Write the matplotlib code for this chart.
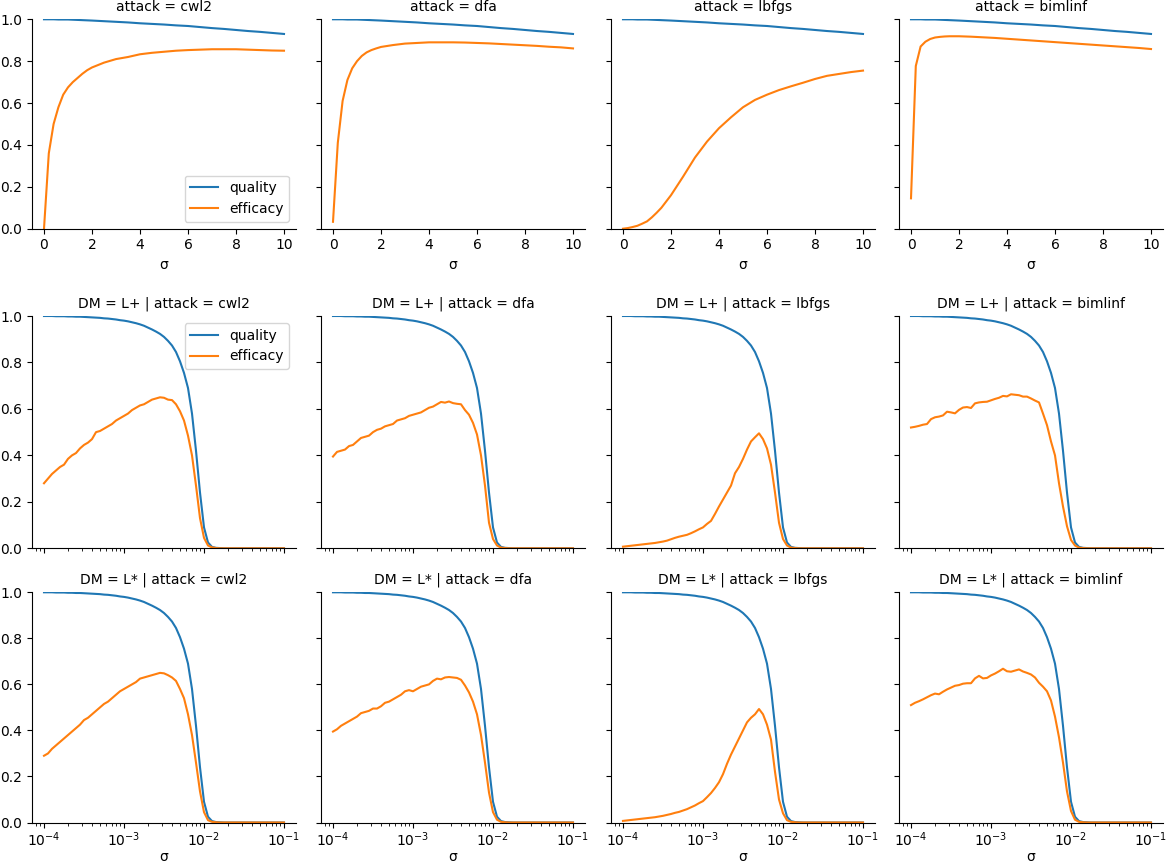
import numpy as np
import matplotlib
matplotlib.use("Agg")
import matplotlib.pyplot as plt

attacks = ["cwl2", "dfa", "lbfgs", "bimlinf"]
dms = ["L+", "L*"]

# top row: linear sigma
sigma_lin = [0, 0.2, 0.4, 0.6, 0.8, 1.0, 1.2, 1.4, 1.6, 1.8, 2.0, 2.5, 3.0, 3.5,
             4.0, 4.5, 5.0, 5.5, 6.0, 6.5, 7.0, 7.5, 8.0, 8.5, 9.0, 9.5, 10.0]
quality_lin = [1.000, 1.000, 1.000, 0.999, 0.999, 0.999, 0.998, 0.997, 0.996, 0.995,
               0.994, 0.991, 0.988, 0.985, 0.981, 0.978, 0.975, 0.971, 0.968, 0.963,
               0.958, 0.954, 0.949, 0.944, 0.940, 0.935, 0.930]
efficacy_lin = {
    "cwl2": [0.0, 0.36, 0.50, 0.58, 0.64, 0.675, 0.70, 0.72, 0.74, 0.757, 0.77, 0.793,
             0.81, 0.82, 0.833, 0.84, 0.845, 0.85, 0.853, 0.855, 0.857, 0.857, 0.857,
             0.855, 0.853, 0.851, 0.85],
    "dfa": [0.033, 0.41, 0.61, 0.71, 0.766, 0.80, 0.825, 0.842, 0.853, 0.861, 0.868,
            0.877, 0.884, 0.887, 0.89, 0.89, 0.89, 0.889, 0.887, 0.885, 0.882, 0.879,
            0.876, 0.873, 0.869, 0.866, 0.861],
    "lbfgs": [0.0, 0.003, 0.008, 0.014, 0.024, 0.035, 0.054, 0.076, 0.10, 0.13, 0.16,
              0.248, 0.34, 0.416, 0.48, 0.532, 0.58, 0.615, 0.64, 0.662, 0.68, 0.697,
              0.715, 0.73, 0.739, 0.748, 0.755],
    "bimlinf": [0.145, 0.777, 0.87, 0.893, 0.906, 0.913, 0.916, 0.918, 0.919, 0.919,
                0.919, 0.917, 0.914, 0.911, 0.907, 0.903, 0.899, 0.895, 0.891, 0.887,
                0.883, 0.879, 0.875, 0.871, 0.867, 0.863, 0.858],
}

# rows 2-3: log sigma, 20 samples per decade from 1e-4 to 1e-1
sigma_log = np.logspace(-4, -1, 61)
quality_log = [1.000, 1.000, 1.000, 0.999, 0.999, 0.999, 0.998, 0.998, 0.997, 0.997,
               0.996, 0.995, 0.994, 0.993, 0.992, 0.990, 0.989, 0.987, 0.985, 0.982,
               0.980, 0.977, 0.973, 0.969, 0.964, 0.958, 0.950, 0.942, 0.933, 0.923,
               0.910, 0.893, 0.873, 0.845, 0.805, 0.755, 0.690, 0.580, 0.420, 0.240,
               0.090, 0.025, 0.006, 0.002, 0.001,
               0, 0, 0, 0, 0, 0, 0, 0, 0, 0, 0, 0, 0, 0, 0, 0]
tail = [0] * 16
efficacy_log = {
    ("L+", "cwl2"): [0.28, 0.30, 0.32, 0.335, 0.35, 0.36, 0.385, 0.40, 0.41, 0.43,
                     0.445, 0.455, 0.47, 0.50, 0.505, 0.515, 0.525, 0.535, 0.55, 0.56,
                     0.57, 0.58, 0.595, 0.605, 0.615, 0.62, 0.63, 0.64, 0.645, 0.65,
                     0.648, 0.64, 0.638, 0.62, 0.59, 0.55, 0.485, 0.40, 0.27, 0.13,
                     0.045, 0.012, 0.004, 0.001, 0.0] + tail,
    ("L+", "dfa"): [0.395, 0.415, 0.42, 0.425, 0.44, 0.445, 0.46, 0.475, 0.48, 0.485,
                    0.50, 0.51, 0.515, 0.525, 0.53, 0.535, 0.55, 0.555, 0.56, 0.57,
                    0.575, 0.58, 0.585, 0.595, 0.605, 0.61, 0.62, 0.63, 0.627, 0.632,
                    0.625, 0.622, 0.62, 0.595, 0.575, 0.54, 0.49, 0.40, 0.27, 0.11,
                    0.04, 0.012, 0.003, 0.001, 0.0] + tail,
    ("L+", "lbfgs"): [0.007, 0.009, 0.011, 0.013, 0.015, 0.017, 0.019, 0.021, 0.023, 0.026,
                      0.029, 0.033, 0.039, 0.045, 0.050, 0.054, 0.058, 0.065, 0.073, 0.082,
                      0.09, 0.105, 0.118, 0.148, 0.18, 0.21, 0.24, 0.27, 0.323, 0.35,
                      0.385, 0.425, 0.46, 0.478, 0.495, 0.47, 0.43, 0.36, 0.24, 0.11,
                      0.04, 0.012, 0.003, 0.001, 0.0] + tail,
    ("L+", "bimlinf"): [0.52, 0.523, 0.527, 0.532, 0.535, 0.556, 0.564, 0.567, 0.572, 0.588,
                        0.585, 0.581, 0.596, 0.606, 0.608, 0.604, 0.624, 0.628, 0.63, 0.631,
                        0.637, 0.643, 0.648, 0.656, 0.654, 0.663, 0.661, 0.659, 0.653, 0.653,
                        0.645, 0.636, 0.628, 0.58, 0.53, 0.46, 0.40, 0.28, 0.18, 0.095,
                        0.036, 0.012, 0.003, 0.001, 0.0] + tail,
    ("L*", "cwl2"): [0.29, 0.30, 0.32, 0.335, 0.35, 0.365, 0.38, 0.395, 0.41, 0.425,
                     0.445, 0.455, 0.47, 0.485, 0.50, 0.515, 0.525, 0.54, 0.555, 0.57,
                     0.58, 0.59, 0.60, 0.61, 0.625, 0.63, 0.635, 0.64, 0.645, 0.65,
                     0.648, 0.64, 0.63, 0.615, 0.58, 0.54, 0.47, 0.38, 0.26, 0.135,
                     0.045, 0.01, 0.003, 0.001, 0.0] + tail,
    ("L*", "dfa"): [0.395, 0.405, 0.42, 0.43, 0.44, 0.45, 0.46, 0.475, 0.48, 0.485,
                    0.495, 0.495, 0.505, 0.52, 0.525, 0.535, 0.545, 0.555, 0.57, 0.575,
                    0.57, 0.58, 0.59, 0.595, 0.60, 0.615, 0.625, 0.622, 0.63, 0.632,
                    0.63, 0.628, 0.62, 0.595, 0.565, 0.525, 0.47, 0.38, 0.26, 0.13,
                    0.045, 0.012, 0.003, 0.001, 0.0] + tail,
    ("L*", "lbfgs"): [0.007, 0.009, 0.011, 0.013, 0.015, 0.017, 0.019, 0.021, 0.023, 0.026,
                      0.029, 0.033, 0.037, 0.042, 0.046, 0.052, 0.058, 0.066, 0.074, 0.084,
                      0.093, 0.11, 0.128, 0.15, 0.175, 0.21, 0.255, 0.295, 0.33, 0.365,
                      0.40, 0.435, 0.455, 0.47, 0.493, 0.47, 0.425, 0.36, 0.22, 0.10,
                      0.04, 0.010, 0.003, 0.001, 0.0] + tail,
    ("L*", "bimlinf"): [0.51, 0.52, 0.527, 0.535, 0.544, 0.553, 0.56, 0.557, 0.568, 0.578,
                        0.586, 0.594, 0.597, 0.603, 0.605, 0.605, 0.626, 0.637, 0.626, 0.628,
                        0.639, 0.647, 0.657, 0.668, 0.657, 0.655, 0.66, 0.665, 0.656, 0.65,
                        0.643, 0.63, 0.607, 0.59, 0.57, 0.53, 0.46, 0.37, 0.26, 0.135,
                        0.05, 0.012, 0.003, 0.001, 0.0] + tail,
}

W, H = 1167, 867
fig = plt.figure(figsize=(W / 100, H / 100), dpi=100)

col_left = [32, 321, 611, 899]
ax_w = 264
rows_px = [(19.3, 228.7), (316, 548.3), (592.3, 822.5)]


def make_ax(col, row):
    top, bot = rows_px[row]
    ax = fig.add_axes([col_left[col] / W, 1 - bot / H, ax_w / W, (bot - top) / H])
    ax.spines["top"].set_visible(False)
    ax.spines["right"].set_visible(False)
    ax.set_ylim(0, 1)
    ax.set_yticks([0, 0.2, 0.4, 0.6, 0.8, 1.0])
    if col != 0:
        ax.set_yticklabels([])
    return ax


# top row
for j, att in enumerate(attacks):
    ax = make_ax(j, 0)
    ax.plot(sigma_lin, quality_lin, color="#1f77b4", lw=1.5, label="quality")
    ax.plot(sigma_lin, efficacy_lin[att], color="#ff7f0e", lw=1.5, label="efficacy")
    ax.set_xticks([0, 2, 4, 6, 8, 10])
    ax.set_xlabel("σ")
    ax.set_title(f"attack = {att}", fontsize=10)
    if j == 0:
        ax.legend(loc="lower right")

# DM rows
for i, dm in enumerate(dms):
    for j, att in enumerate(attacks):
        ax = make_ax(j, i + 1)
        ax.plot(sigma_log, quality_log, color="#1f77b4", lw=1.5, label="quality")
        ax.plot(sigma_log, efficacy_log[(dm, att)], color="#ff7f0e", lw=1.5, label="efficacy")
        ax.set_xscale("log")
        ax.set_xticks([1e-4, 1e-3, 1e-2, 1e-1])
        ax.set_title(f"DM = {dm} | attack = {att}", fontsize=10)
        if i == 0:
            ax.tick_params(axis="x", which="both", labelbottom=False)
        else:
            ax.tick_params(axis="x", which="major", pad=2)
            ax.set_xlabel("σ", labelpad=1)
        if i == 0 and j == 0:
            ax.legend(loc="upper right")

fig.savefig("out.png", dpi=100)
